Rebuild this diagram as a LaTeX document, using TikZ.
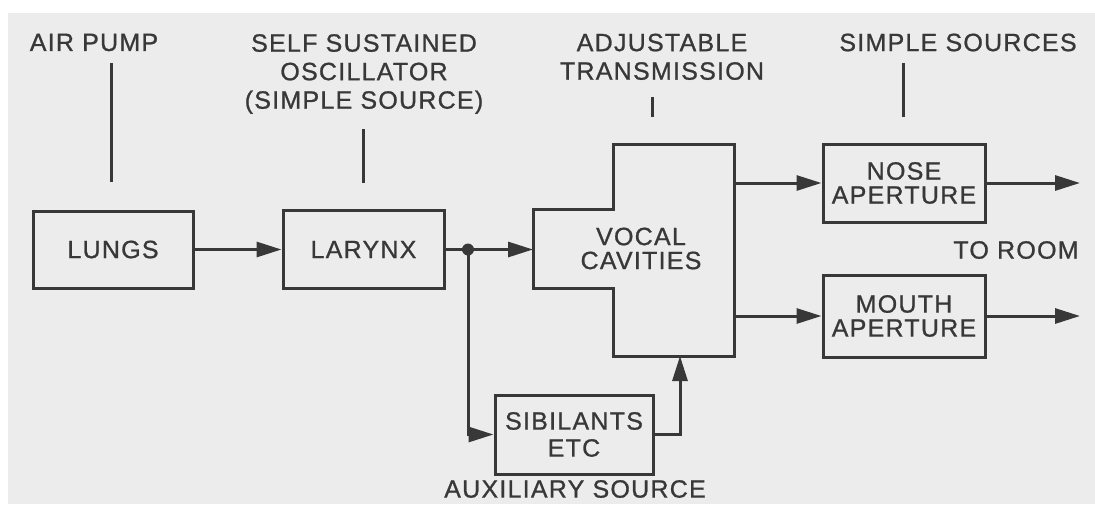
\documentclass[tikz,border=0pt]{standalone}
\usepackage{fontspec}
\setmainfont[LetterSpace=5,FakeBold=0.9]{Liberation Sans}
\usetikzlibrary{arrows.meta}
\definecolor{ink}{HTML}{383838}
\definecolor{paper}{HTML}{ECECEC}
\begin{document}
\begin{tikzpicture}[x=1pt,y=-1pt,
  plain/.style={draw=ink, line width=3pt},
  box/.style={draw=ink, line width=3pt, rectangle, inner sep=0pt, align=center, text=ink, font=\fontsize{25}{24}\selectfont},
  lab/.style={text=ink, inner sep=0pt, align=center, font=\fontsize{25}{28.5}\selectfont},
  conn/.style={draw=ink, line width=3pt, -{Triangle[length=25pt,width=15pt]}},
]
\fill[white] (0,0) rectangle (1095,504);
\fill[paper] (8,13) rectangle (1095,504);
\useasboundingbox (0,0) rectangle (1095,504);

% boxes
\node[box, minimum width=160pt, minimum height=77pt] (lungs) at (113,249.5) {LUNGS};
\node[box, minimum width=161pt, minimum height=78pt] (larynx) at (363.5,249.5) {LARYNX};
\node[box, minimum width=162pt, minimum height=78pt] (nose) at (904,183) {NOSE\\APERTURE};
\node[box, minimum width=162pt, minimum height=82pt] (mouth) at (904,316) {MOUTH\\APERTURE};
\node[box, minimum width=158pt, minimum height=79pt, font=\fontsize{25}{27}\selectfont] (sib) at (574,434.5) {SIBILANTS\\ETC};

% vocal cavities outline
\coordinate (v1) at (613,144);
\coordinate (v2) at (734,144);
\coordinate (v3) at (734,356);
\coordinate (v4) at (613,356);
\coordinate (v5) at (613,288);
\coordinate (v6) at (533,288);
\coordinate (v7) at (533,209);
\coordinate (v8) at (613,209);
\draw[plain, line join=miter] (v1) -- (v2) -- (v3) -- (v4) -- (v5) -- (v6) -- (v7) -- (v8) -- cycle;
\node[lab, font=\fontsize{25}{24}\selectfont] (vocal) at (641,248.5) {VOCAL\\CAVITIES};
\coordinate (vin) at (533,249.5);
\coordinate (vup) at (734,183);
\coordinate (vlo) at (734,316);
\coordinate (vbot) at (680,356);

% connectors
\coordinate (jn) at (468,249.5);
\draw[conn] (lungs.east) -- (larynx.west);
\draw[conn] (larynx.east) -- (vin);
\fill[ink] (jn) circle (6pt);
\draw[conn] (jn) |- (sib.west);
\draw[conn] (sib.east) -| (vbot);
\draw[conn] (vup) -- (nose.west);
\draw[conn] (vlo) -- (mouth.west);
\coordinate (nout) at (1080,183);
\coordinate (mout) at (1080,316);
\draw[conn] (nose.east) -- (nout);
\draw[conn] (mouth.east) -- (mout);

% labels
\node[lab] (airpump) at (94,42.5) {AIR PUMP};
\node[lab, anchor=north] (osc) at (364,34) {SELF SUSTAINED\\OSCILLATOR\\(SIMPLE SOURCE)};
\node[lab, anchor=north] (adj) at (662,33.5) {ADJUSTABLE\\TRANSMISSION};
\node[lab] (simple) at (958,42.5) {SIMPLE SOURCES};
\node[lab] (toroom) at (1016,250) {TO ROOM};
\node[lab] (aux) at (575,489) {AUXILIARY SOURCE};

% label ticks
\coordinate (a1) at (111.5,63);  \coordinate (a2) at (111.5,182);
\coordinate (b1) at (363,129);   \coordinate (b2) at (363,183);
\coordinate (c1) at (652.5,97);  \coordinate (c2) at (652.5,117);
\coordinate (d1) at (903.5,63);  \coordinate (d2) at (903.5,117);
\draw[plain] (a1) -- (a2);
\draw[plain] (b1) -- (b2);
\draw[plain] (c1) -- (c2);
\draw[plain] (d1) -- (d2);
\end{tikzpicture}
\end{document}
